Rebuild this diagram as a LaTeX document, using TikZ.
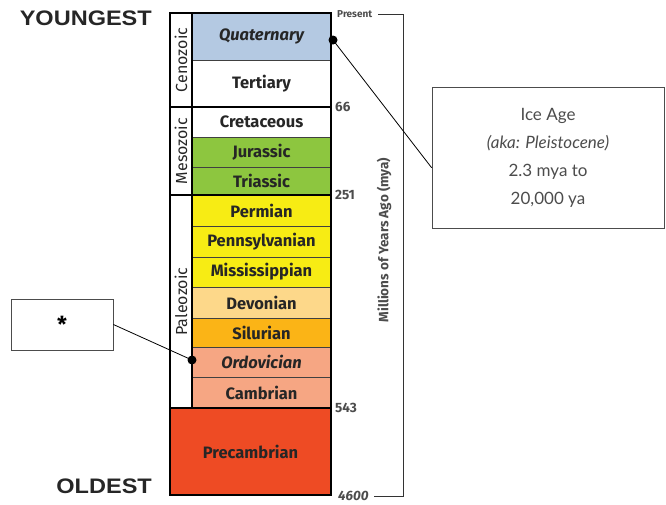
\documentclass[tikz,border=0pt]{standalone}
\usepackage{fontspec}
\usepackage{graphicx}
\setmainfont{Fira Sans}
\newfontfamily\headfont{Liberation Sans}
\newfontfamily\notefont{Lato}

\definecolor{quatblue}{RGB}{180,201,226}
\definecolor{jurgreen}{RGB}{141,198,63}
\definecolor{permyellow}{RGB}{247,236,20}
\definecolor{devorange}{RGB}{253,216,138}
\definecolor{silorange}{RGB}{251,180,22}
\definecolor{ordsalmon}{RGB}{246,166,131}
\definecolor{precred}{RGB}{238,75,36}

\begin{document}
\begin{tikzpicture}[x=1pt,y=-1pt,
		period/.style={draw=black!75,line width=0.8pt,minimum width=139pt,inner sep=0pt,
			text=black!85,font=\fontsize{16.5}{16.5}\selectfont\bfseries},
		era/.style={draw=black,line width=1.6pt,minimum height=22pt,inner sep=0pt,rotate=90,
			text=black!85,font=\fontsize{16}{16}\selectfont},
		age/.style={anchor=west,inner sep=0pt,text=black!70,font=\fontsize{13.5}{13.5}\selectfont\bfseries},
		dot/.style={circle,fill=black,inner sep=0pt,minimum size=9pt},
		callout/.style={draw=black!70,line width=0.8pt,inner sep=0pt},
		endlabel/.style={inner sep=0pt,text=black!85,font=\fontsize{21}{21}\selectfont\headfont\bfseries}
	]
	\useasboundingbox (0,0) rectangle (666,504);

	% periods
	\node[period,fill=quatblue,minimum height=47pt] (quat) at (261.5,36.5) {\itshape Quaternary};
	\node[period,fill=white,minimum height=47pt] (tert) at (261.5,83.5) {Tertiary};
	\node[period,fill=white,minimum height=30pt] (cret) at (261.5,122) {Cretaceous};
	\node[period,fill=jurgreen,minimum height=30pt] (jur) at (261.5,152) {Jurassic};
	\node[period,fill=jurgreen,minimum height=28pt] (tri) at (261.5,181) {Triassic};
	\node[period,fill=permyellow,minimum height=31pt] (perm) at (261.5,210.5) {Permian};
	\node[period,fill=permyellow,minimum height=31pt] (penn) at (261.5,241.5) {Pennsylvanian};
	\node[period,fill=permyellow,minimum height=30pt] (miss) at (261.5,272) {Mississippian};
	\node[period,fill=devorange,minimum height=31pt] (dev) at (261.5,302.5) {Devonian};
	\node[period,fill=silorange,minimum height=29pt] (sil) at (261.5,332.5) {Silurian};
	\node[period,fill=ordsalmon,minimum height=30pt] (ord) at (261.5,362) {\itshape Ordovician};
	\node[period,fill=ordsalmon,minimum height=31pt] (camb) at (261.5,392.5) {Cambrian};
	\node[period,fill=precred,draw=black,line width=1.8pt,minimum width=161pt,minimum height=87pt]
		(precamb) at (250.5,451.5) {Precambrian};

	% eras
	\node[era,minimum width=94pt] (ceno) at (181,60) {Cenozoic};
	\node[era,minimum width=88pt] (meso) at (181,151) {Mesozoic};
	\node[era,minimum width=213pt] (paleo) at (181,301.5) {Paleozoic};
	\draw[line width=1.6pt] (192,13) rectangle (331,408);
	\draw[line width=1.6pt] (170,107) -- (331,107);
	\draw[line width=1.6pt] (170,195) -- (331,195);

	% time scale
	\node[age,font=\fontsize{10}{10}\selectfont\bfseries] (present) at (337,14) {Present};
	\node[age] (age66) at (335,107) {66};
	\node[age] (age251) at (335,195) {251};
	\node[age] (age543) at (335,408) {543};
	\node[age,font=\fontsize{13.5}{13.5}\selectfont\bfseries\itshape] (age4600) at (338,496) {4600};
	\coordinate (scaletop) at (403,14);
	\coordinate (scalebot) at (403,496);
	\draw[line width=0.9pt,black!80] ([xshift=6pt]present.east) -- (scaletop) -- (scalebot) -- ([xshift=5pt]age4600.east);
	\node[age,anchor=center,rotate=90,font=\fontsize{13.5}{13.5}\selectfont\bfseries] (myalabel) at (384,240)
		{Millions of Years Ago (mya)};

	% ends
	\node[endlabel,anchor=base east] (young) at (152,25) {\scalebox{1.12}[1]{YOUNGEST}};
	\node[endlabel,anchor=base east] (old) at (152,493) {\scalebox{1.12}[1]{OLDEST}};

	% callouts
	\node[callout,minimum width=232pt,minimum height=141pt,align=center,text=black!70,
		font=\fontsize{17}{28}\selectfont\notefont] (iceage) at (548,157.5)
		{Ice Age\\ \itshape (aka: Pleistocene)\\ 2.3 mya to\\ 20,000 ya};
	\node[callout,minimum width=102pt,minimum height=51pt,font=\fontsize{22}{22}\selectfont\bfseries] (star) at (62,324.5) {*};
	\node[dot] (quatdot) at (333,40) {};
	\node[dot] (orddot) at (192,360) {};
	\draw[line width=0.8pt] (quatdot.center) -- (iceage.185);
	\draw[line width=0.8pt] (orddot.center) -- (star.east);
\end{tikzpicture}
\end{document}
